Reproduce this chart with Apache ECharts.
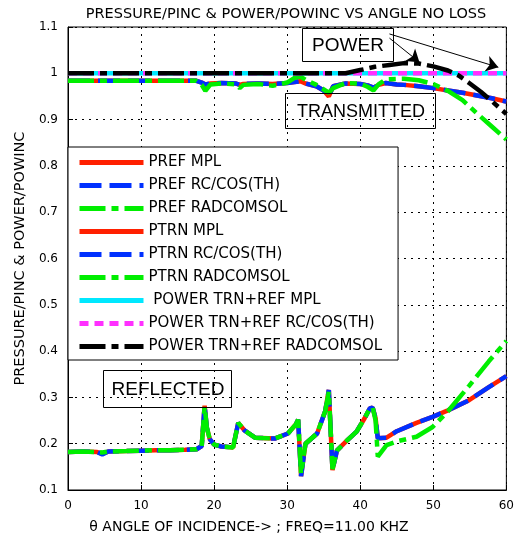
<!DOCTYPE html>
<html>
<head>
<meta charset="utf-8">
<script src="https://cdn.jsdelivr.net/npm/echarts@6/dist/echarts.min.js"></script>
<style>
  html, body { margin: 0; padding: 0; background: #fff; }
  #chart { width: 517px; height: 540px; }
</style>
</head>
<body>
<div id="chart"></div>
<script>
// reflected pressure (lower curves)
var refAngle = [0, 2, 4, 4.7, 5.5, 8, 10, 12, 14, 16, 17.6, 18.3, 18.7, 19.0, 19.4, 20.0, 21, 22.6, 23.3, 24.2, 25.6, 28.3, 30.1, 31.2, 31.5, 31.9, 32.5, 34.1, 35.2, 35.7, 36.2, 36.8, 38.2, 39.5, 40.6, 41.3, 41.7, 42.1, 42.4, 43.6, 45, 47.7, 49.9, 52, 54.9, 57.6, 60];
var prefMpl = [0.182, 0.183, 0.182, 0.178, 0.183, 0.184, 0.185, 0.186, 0.186, 0.187, 0.188, 0.195, 0.282, 0.235, 0.21, 0.198, 0.194, 0.192, 0.245, 0.228, 0.213, 0.211, 0.222, 0.242, 0.252, 0.13, 0.2, 0.222, 0.27, 0.316, 0.143, 0.185, 0.207, 0.226, 0.255, 0.276, 0.278, 0.255, 0.212, 0.213, 0.227, 0.245, 0.258, 0.272, 0.294, 0.322, 0.346];
var prefRc = [0.182, 0.183, 0.182, 0.177, 0.183, 0.184, 0.185, 0.186, 0.186, 0.187, 0.188, 0.195, 0.282, 0.235, 0.21, 0.198, 0.194, 0.192, 0.245, 0.228, 0.213, 0.211, 0.222, 0.242, 0.252, 0.13, 0.2, 0.222, 0.27, 0.316, 0.143, 0.185, 0.207, 0.226, 0.255, 0.276, 0.278, 0.255, 0.212, 0.213, 0.227, 0.245, 0.258, 0.272, 0.294, 0.322, 0.346];
var prefRad = [0.182, 0.183, 0.182, 0.181, 0.183, 0.184, 0.185, 0.186, 0.186, 0.187, 0.188, 0.195, 0.28, 0.235, 0.21, 0.198, 0.194, 0.192, 0.245, 0.228, 0.213, 0.211, 0.222, 0.242, 0.252, 0.135, 0.2, 0.222, 0.27, 0.312, 0.145, 0.185, 0.207, 0.226, 0.255, 0.276, 0.278, 0.25, 0.172, 0.197, 0.205, 0.215, 0.236, 0.27, 0.325, 0.378, 0.422];

// transmitted pressure
var trnAngle = [0, 5, 10, 15, 17.5, 18.3, 18.8, 19.5, 21, 23, 23.5, 24, 26, 28, 30, 31, 31.8, 32.5, 34, 35, 35.7, 36.3, 38, 40, 41, 41.8, 42.5, 43.5, 45, 46, 48, 50, 52, 54, 56, 58, 60];
var ptrnMpl = [0.984, 0.984, 0.984, 0.984, 0.984, 0.98, 0.976, 0.978, 0.979, 0.978, 0.975, 0.977, 0.978, 0.977, 0.979, 0.981, 0.983, 0.978, 0.972, 0.963, 0.95, 0.972, 0.978, 0.977, 0.974, 0.969, 0.975, 0.979, 0.976, 0.975, 0.972, 0.968, 0.963, 0.958, 0.952, 0.946, 0.939];
var ptrnRc = [0.984, 0.984, 0.984, 0.984, 0.984, 0.98, 0.976, 0.978, 0.979, 0.978, 0.975, 0.977, 0.978, 0.977, 0.979, 0.981, 0.983, 0.978, 0.972, 0.963, 0.951, 0.972, 0.978, 0.977, 0.974, 0.969, 0.975, 0.979, 0.976, 0.975, 0.972, 0.968, 0.963, 0.958, 0.952, 0.946, 0.939];
var ptrnRad = [0.984, 0.984, 0.984, 0.984, 0.984, 0.975, 0.962, 0.976, 0.978, 0.976, 0.968, 0.975, 0.977, 0.973, 0.98, 0.99, 0.993, 0.986, 0.975, 0.965, 0.958, 0.968, 0.979, 0.978, 0.971, 0.963, 0.976, 0.987, 0.988, 0.988, 0.985, 0.977, 0.962, 0.942, 0.913, 0.885, 0.857];

// total power
var powAngle = [0, 10, 20, 30, 38, 40, 42, 44, 46, 48, 50, 52, 53.5, 55, 56.5, 58, 60];
var powMpl = [1, 1, 1, 1, 1, 1, 1, 1, 1, 1, 1, 1, 1, 1, 1, 1, 1];
var powRc = [1, 1, 1, 1, 1, 1, 1, 1, 1, 1, 1, 1, 1, 1, 1, 1, 1];
var powRad = [1, 1, 1, 1, 1.0, 1.007, 1.014, 1.018, 1.022, 1.021, 1.015, 1.006, 0.995, 0.978, 0.96, 0.94, 0.912];

var xTicks = [0, 60, 10];      // min, max, step
var yTicks = [0.1, 1.1, 0.1];

var FONT = 'DejaVu Sans';
var DASH = [22, 8];
var DASHDOT = [26, 6, 7, 6];
var DOT = [9, 6];

function pairs(xs, ys) {
  return xs.map(function (x, i) { return [x, ys[i]]; });
}

function line(name, xs, ys, color, type) {
  return {
    name: name,
    type: 'line',
    data: pairs(xs, ys),
    symbol: 'none',
    silent: true,
    animation: false,
    lineStyle: { color: color, width: 4.5, type: type },
    itemStyle: { color: color }
  };
}

var series = [
  line('PREF MPL', refAngle, prefMpl, '#ff2000', 'solid'),
  line('PREF RC/COS(TH)', refAngle, prefRc, '#0030ff', DASH),
  line('PREF RADCOMSOL', refAngle, prefRad, '#00ee00', DASHDOT),
  line('PTRN MPL', trnAngle, ptrnMpl, '#ff2000', 'solid'),
  line('PTRN RC/COS(TH)', trnAngle, ptrnRc, '#0030ff', DASH),
  line('PTRN RADCOMSOL', trnAngle, ptrnRad, '#00ee00', DASHDOT),
  line(' POWER TRN+REF MPL', powAngle, powMpl, '#00e8ff', 'solid'),
  line('POWER TRN+REF RC/COS(TH)', powAngle, powRc, '#ff30ff', DOT),
  line('POWER TRN+REF RADCOMSOL', powAngle, powRad, '#000000', DASHDOT)
];

// arrows from the POWER label
series[8].markLine = {
  silent: true,
  animation: false,
  symbol: ['none', 'arrow'],
  symbolSize: 12,
  label: { show: false },
  lineStyle: { color: '#000', width: 1, type: 'solid' },
  data: [
    [{ coord: [44.0, 1.085] }, { coord: [58.9, 1.013] }],
    [{ coord: [44.0, 1.076] }, { coord: [48.1, 1.024] }]
  ]
};

var chart = echarts.init(document.getElementById('chart'));
chart.setOption({
  backgroundColor: '#fff',
  animation: false,
  textStyle: { fontFamily: FONT },
  grid: {
    left: 68, right: 6, top: 27, bottom: 50,
    show: true, borderColor: '#000', borderWidth: 1, backgroundColor: 'transparent'
  },
  xAxis: {
    type: 'value',
    min: xTicks[0], max: xTicks[1], interval: xTicks[2],
    axisLine: { show: true, lineStyle: { color: '#000', width: 1 } },
    axisTick: { show: true, inside: true, length: 5, lineStyle: { color: '#000' } },
    axisLabel: { color: '#000', fontSize: 12, margin: 10, fontFamily: FONT },
    splitLine: { show: true, lineStyle: { color: '#000', width: 1, type: [2, 5] } }
  },
  yAxis: {
    type: 'value',
    min: yTicks[0], max: yTicks[1], interval: yTicks[2],
    name: 'PRESSURE/PINC & POWER/POWINC',
    nameLocation: 'middle',
    nameGap: 36,
    nameTextStyle: { color: '#000', fontSize: 14.5, fontFamily: FONT },
    axisLine: { show: true, lineStyle: { color: '#000', width: 1 } },
    axisTick: { show: true, inside: true, length: 5, lineStyle: { color: '#000' } },
    axisLabel: {
      color: '#000', fontSize: 12, margin: 10, fontFamily: FONT,
      formatter: function (v) { return String(Math.round(v * 10) / 10); }
    },
    splitLine: { show: true, lineStyle: { color: '#000', width: 1, type: [2, 5] } }
  },
  legend: {
    orient: 'vertical',
    left: 68, top: 147,
    padding: [8, 16, 6, 9],
    itemWidth: 64, itemHeight: 14, itemGap: 8,
    backgroundColor: '#fff',
    borderColor: '#000', borderWidth: 1,
    selectedMode: false,
    itemStyle: { opacity: 0 },
    lineStyle: { width: 5 },
    textStyle: { color: '#000', fontSize: 15, fontFamily: FONT },
    data: series.map(function (s) { return s.name; })
  },
  graphic: [
    { type: 'text', x: 286, y: 14, silent: true,
      style: { text: 'PRESSURE/PINC & POWER/POWINC VS ANGLE NO LOSS', fill: '#000',
               font: '14.5px "DejaVu Sans"', align: 'center', verticalAlign: 'middle' } },
    { type: 'text', x: 249, y: 527, silent: true,
      style: { text: 'θ ANGLE OF INCIDENCE-> ; FREQ=11.00 KHZ', fill: '#000',
               font: '14px "DejaVu Sans"', align: 'center', verticalAlign: 'middle' } },
    { type: 'rect', silent: true, z: 100,
      shape: { x: 302.5, y: 28.5, width: 91, height: 33 },
      style: { fill: 'none', stroke: '#000', lineWidth: 1 } },
    { type: 'text', x: 348, y: 46, silent: true, z: 100,
      style: { text: 'POWER', fill: '#000', font: '19px "Liberation Sans"', align: 'center', verticalAlign: 'middle' } },
    { type: 'rect', silent: true, z: 100,
      shape: { x: 285.5, y: 93.5, width: 150, height: 35 },
      style: { fill: 'none', stroke: '#000', lineWidth: 1 } },
    { type: 'text', x: 361, y: 112, silent: true, z: 100,
      style: { text: 'TRANSMITTED', fill: '#000', font: '18px "Liberation Sans"', align: 'center', verticalAlign: 'middle' } },
    { type: 'rect', silent: true, z: 100,
      shape: { x: 103.5, y: 370.5, width: 128, height: 37 },
      style: { fill: 'none', stroke: '#000', lineWidth: 1 } },
    { type: 'text', x: 168, y: 390, silent: true, z: 100,
      style: { text: 'REFLECTED', fill: '#000', font: '19px "Liberation Sans"', align: 'center', verticalAlign: 'middle' } }
  ],
  series: series
});
</script>
</body>
</html>
